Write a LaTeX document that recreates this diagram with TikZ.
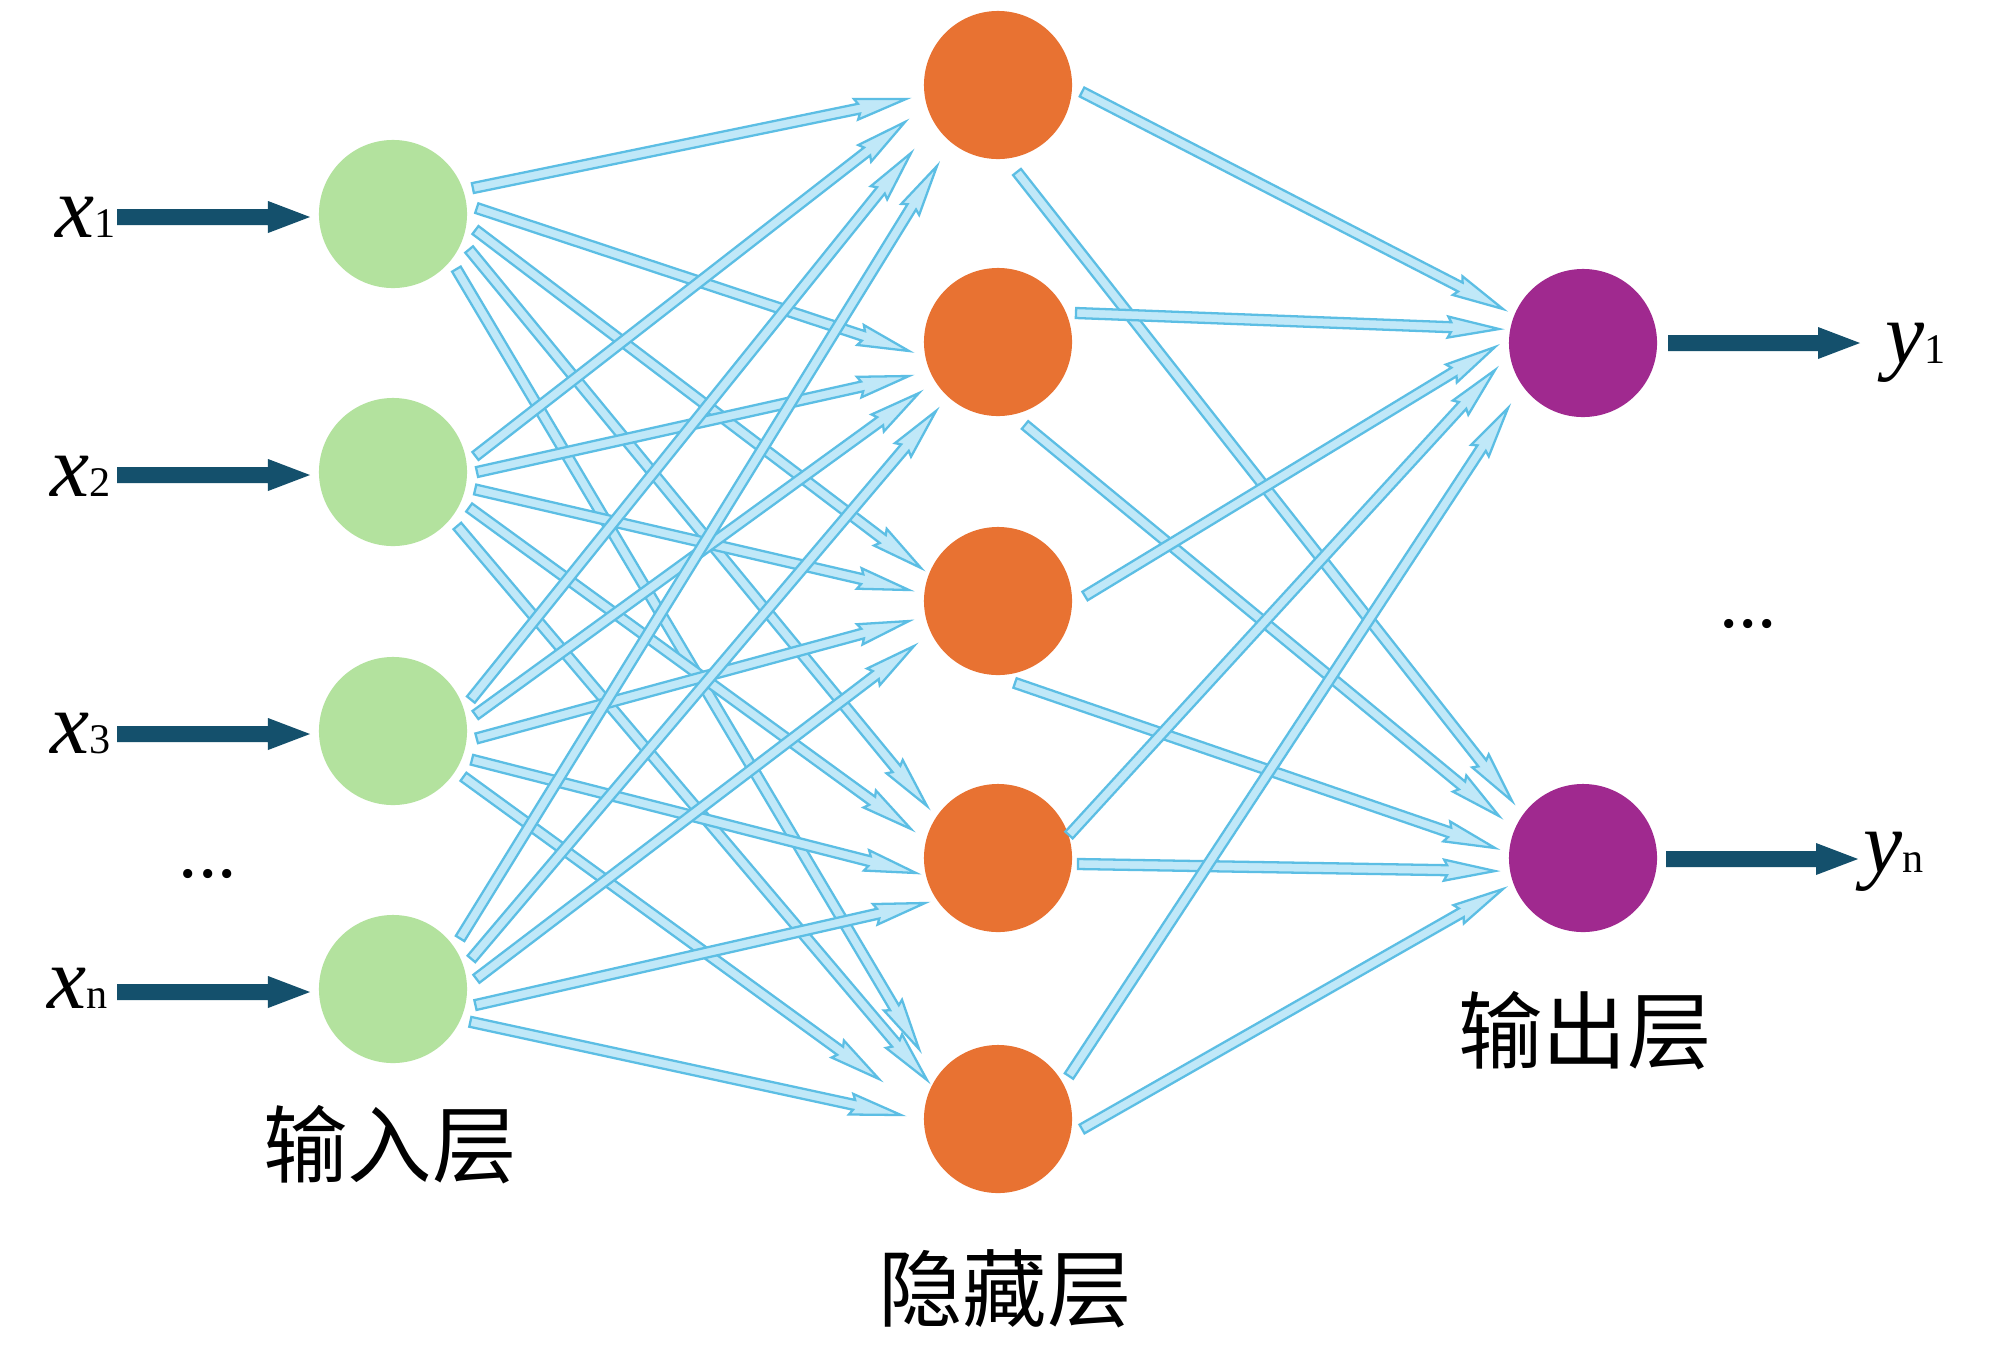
\documentclass[tikz,border=0pt]{standalone}
\usepackage{fontspec}
\setmainfont{Liberation Serif}
\newfontfamily\cjk{Noto Sans CJK SC}
\usetikzlibrary{calc}
\definecolor{ingreen}{RGB}{179,226,158}
\definecolor{hidorange}{RGB}{232,114,50}
\definecolor{outpurple}{RGB}{160,41,143}
\definecolor{darkarr}{RGB}{20,80,108}
\definecolor{cfill}{RGB}{192,232,248}
\definecolor{cline}{RGB}{92,190,228}
\tikzset{
  neuron/.style={circle,minimum size=1.48cm,inner sep=0pt,draw=none},
  innode/.style={neuron,fill=ingreen},
  hidnode/.style={neuron,fill=hidorange},
  outnode/.style={neuron,fill=outpurple},
  connarrow/.style={fill=cfill,draw=cline,line width=0.65pt,line join=miter},
  fatarrow/.style={fill=darkarr},
  varlab/.style={inner sep=0pt,font=\fontsize{25}{30}\selectfont},
  cjklab/.style={inner sep=0pt,font=\cjk\fontsize{24}{28}\selectfont},
  dotlab/.style={inner sep=0pt,anchor=base,font=\fontsize{22}{26}\selectfont}
}
\newcommand\nnlab[2]{{\itshape #1}{\fontsize{12}{12}\selectfont #2}}
% hollow connector from coordinate #1 to coordinate #2
\newcommand\nnconn[2]{%
  \coordinate (ch) at ($(#2)!0.48cm!(#1)$);
  \coordinate (cb) at ($(#2)!0.51cm!(#1)$);
  \filldraw[connarrow] ($(#1)!0.05cm!90:(#2)$) -- ($(ch)!0.05cm!90:(#2)$) -- ($(cb)!0.105cm!90:(#2)$) -- (#2) -- ($(cb)!0.105cm!-90:(#2)$) -- ($(ch)!0.05cm!-90:(#2)$) -- ($(#1)!0.05cm!-90:(#2)$) -- cycle;}
\newcommand\nnfat[2]{%
  \coordinate (fh) at ($(#2)!0.42cm!(#1)$);
  \fill[fatarrow] ($(#1)!0.08cm!90:(#2)$) -- ($(fh)!0.08cm!90:(#2)$) -- ($(fh)!0.16cm!90:(#2)$) -- (#2) -- ($(fh)!0.16cm!-90:(#2)$) -- ($(fh)!0.08cm!-90:(#2)$) -- ($(#1)!0.08cm!-90:(#2)$) -- cycle;}
\begin{document}
\begin{tikzpicture}[x=0.01cm,y=-0.01cm]
\useasboundingbox (0,0) rectangle (2000,1369);
\fill[white] (0,0) rectangle (2000,1369);
% nodes
\node[innode] (i1) at (393,214) {};
\node[innode] (i2) at (393,472) {};
\node[innode] (i3) at (393,731) {};
\node[innode] (i4) at (393,989) {};
\node[hidnode] (h1) at (998,85) {};
\node[hidnode] (h2) at (998,342) {};
\node[hidnode] (h3) at (998,601) {};
\node[hidnode] (h4) at (998,858) {};
\node[hidnode] (h5) at (998,1119) {};
\node[outnode] (o1) at (1583,343) {};
\node[outnode] (o2) at (1583,858) {};
% input -> hidden
\foreach \fsrc/\ftgt/\fang/\fex/\fey in {
 i1/h1/-18/-92/14, i1/h2/-4/-89/9, i1/h3/11/-77/-33, i1/h4/25/-71/-52, i1/h5/41/-79/-70,
 i2/h1/-11/-93/37, i2/h2/0/-89/34, i2/h3/12/-89/-11, i2/h4/25/-87/-29, i2/h5/40/-71/-39,
 i3/h1/-22/-87/68, i3/h2/-11/-79/51, i3/h3/5/-89/20, i3/h4/20/-82/15, i3/h5/33/-119/-40,
 i4/h1/-37/-61/81, i4/h2/-21/-62/69, i4/h3/-7/-84/45, i4/h4/11/-73/45, i4/h5/23/-97/-4}{
  \coordinate (cs) at ($(\fsrc)+(\fang:84)$);
  \coordinate (ce) at ($(\ftgt)+(\fex,\fey)$);
  \nnconn{cs}{ce}
}
% hidden -> output
\foreach \fsrc/\ftgt/\fsx/\fsy/\fex/\fey in {
 h1/o1/84/7/-80/-34, h1/o2/19/87/-71/-57, h2/o1/78/-29/-84/-14, h2/o2/27/83/-84/-42,
 h3/o1/87/-5/-88/4, h3/o2/17/82/-88/-10, h4/o1/71/-23/-88/27, h4/o2/80/6/-88/13,
 h5/o1/71/-43/-75/65, h5/o2/84/10/-80/31}{
  \coordinate (cs) at ($(\fsrc)+(\fsx,\fsy)$);
  \coordinate (ce) at ($(\ftgt)+(\fex,\fey)$);
  \nnconn{cs}{ce}
}
% input labels and arrows
\node[varlab,anchor=base east] (lx1) at (116,237) {\nnlab{x}{1}};
\node[varlab,anchor=base east] (lx2) at (111,496) {\nnlab{x}{2}};
\node[varlab,anchor=base east] (lx3) at (111,753) {\nnlab{x}{3}};
\node[varlab,anchor=base east] (lx4) at (108,1008) {\nnlab{x}{n}};
\foreach \k in {1,2,3,4}{
  \coordinate (ins\k) at ($(i\k)+(-276,3)$);
  \coordinate (ine\k) at ($(i\k)+(-83,3)$);
  \nnfat{ins\k}{ine\k}
}
% output arrows and labels
\coordinate (outs1) at ($(o1)+(85,0)$);
\coordinate (oute1) at ($(o1)+(277,0)$);
\coordinate (outs2) at ($(o2)+(83,1)$);
\coordinate (oute2) at ($(o2)+(275,1)$);
\nnfat{outs1}{oute1}
\nnfat{outs2}{oute2}
\node[varlab,anchor=base west] (ly1) at (1885,363) {\nnlab{y}{1}};
\node[varlab,anchor=base west] (ly2) at (1863,872) {\nnlab{y}{n}};
% dots
\node[dotlab] (dl) at (208,877) {...};
\node[dotlab] (dr) at (1748,627) {...};
% layer labels
\node[cjklab] (lin) at (390,1145) {输入层};
\node[cjklab] (lhid) at (1005,1289) {隐藏层};
\node[cjklab] (lout) at (1585,1031) {输出层};
\end{tikzpicture}
\end{document}
